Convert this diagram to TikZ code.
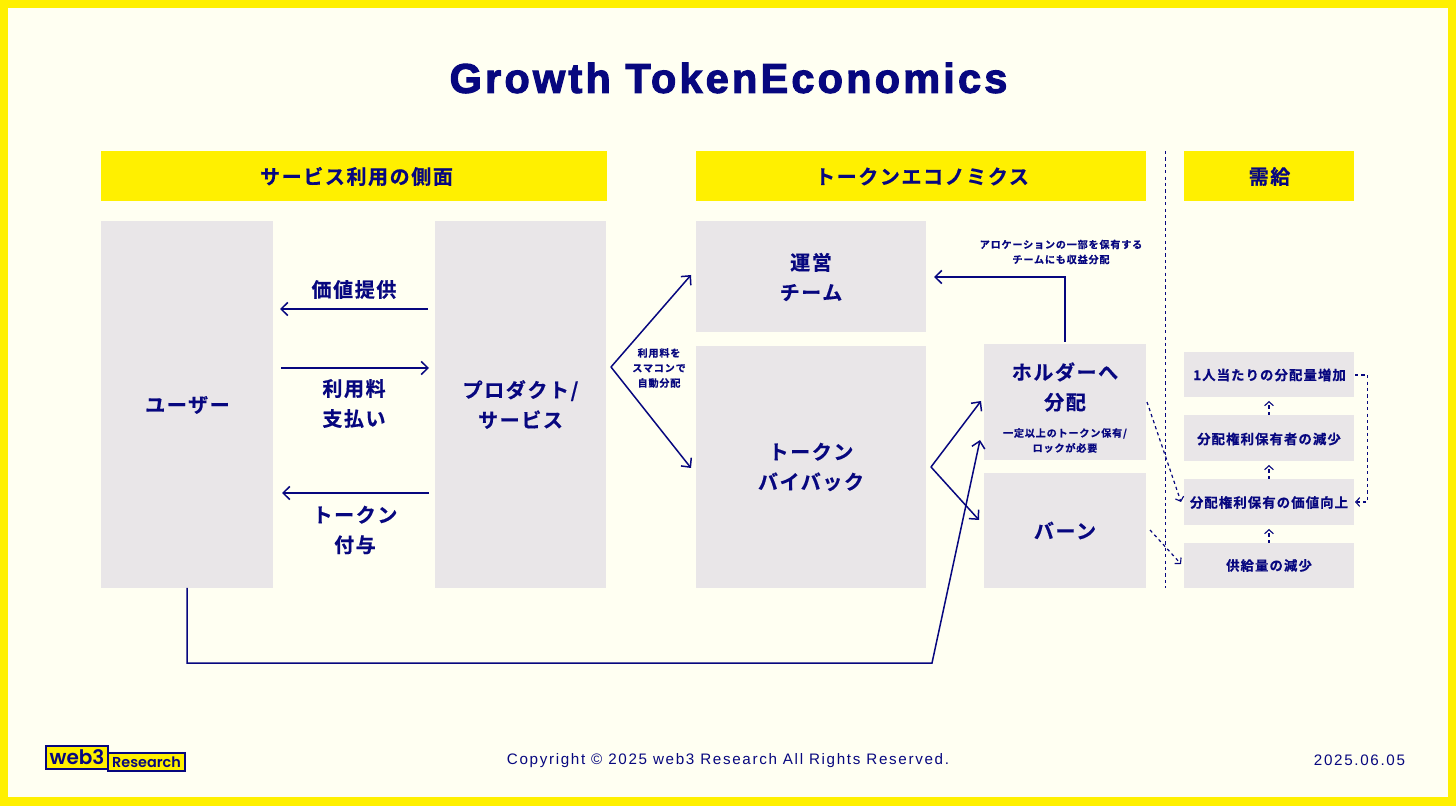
\documentclass[tikz,border=0pt]{standalone}
\usepackage{fontspec}
\usetikzlibrary{arrows.meta,calc}
\setmainfont{Noto Sans CJK JP}[LetterSpace=8,BoldFont={Noto Sans CJK JP Bold},BoldFeatures={FakeBold=0.5}]
\newfontfamily\titlefont{Liberation Sans Bold}[LetterSpace=7.5,FakeBold=2.5]
\newfontfamily\footfont{Liberation Sans}[LetterSpace=11]
\newfontfamily\logofont{Poppins SemiBold}
\definecolor{navy}{HTML}{07077F}
\definecolor{ylw}{HTML}{FFF000}
\definecolor{pane}{HTML}{E9E6E8}
\definecolor{paper}{HTML}{FFFFF2}
\tikzset{
  px/.style={x=0.5pt,y=-0.5pt},
  txt/.style={text=navy,font=\bfseries,align=center,inner sep=0pt,outer sep=0pt},
  big/.style={txt,font=\bfseries\fontsize{10}{15}\selectfont},
  mid/.style={txt,font=\bfseries\fontsize{6.7}{9}\selectfont},
  sml/.style={txt,font=\bfseries\fontsize{5.05}{7.5}\selectfont},
  pbox/.style={fill=pane,draw=none,inner sep=0pt,outer sep=0pt},
  head/.style={fill=ylw,draw=none,inner sep=0pt,outer sep=0pt},
  arr/.style={draw=navy,line width=0.75pt,-{Straight Barb[length=3.4pt,width=6.6pt,line width=0.75pt]}},
  dot/.style={draw=navy,line width=0.6pt,dash pattern=on 1.6pt off 1.6pt},
  darr/.style={dot,-{Straight Barb[length=2pt,width=4.4pt,line width=0.55pt]}},
  gap/.style={shorten <=#1,shorten >=#1},
  foot/.style={text=navy,font=\footfont\fontsize{7.6}{9}\selectfont,inner sep=0pt,outer sep=0pt},
  logo/.style={fill=ylw,draw=navy,line width=0.6pt,text=navy,inner sep=0pt,outer sep=0pt},
}
\begin{document}
\begin{tikzpicture}[px]
\useasboundingbox (0,0) rectangle (1456,806);
\fill[ylw] (0,0) rectangle (1456,806);
\fill[paper] (8,8) rectangle (1448,797);

\node[txt,font=\titlefont\fontsize{20.8}{24}\selectfont] (title) at (728.5,78) {Growth TokenEconomics};

% headers
\node[head,minimum width=253pt,minimum height=25pt] (h1) at (354,176) {};
\node[big] (h1t) at (356.5,176.5) {サービス利用の側面};
\node[head,minimum width=225pt,minimum height=25pt] (h2) at (921,176) {};
\node[big] (h2t) at (922,176.5) {トークンエコノミクス};
\node[head,minimum width=85pt,minimum height=25pt] (h3) at (1269,176) {};
\node[big] (h3t) at (1269.5,176.5) {需給};

% boxes
\node[pbox,minimum width=86pt,minimum height=183.5pt] (user) at (187,404.5) {};
\node[big] (usert) at (187.5,405) {ユーザー};
\node[pbox,minimum width=85.5pt,minimum height=183.5pt] (prod) at (520.5,404.5) {};
\node[big] (prodt) at (520.5,404.5) {プロダクト/\\サービス};
\node[pbox,minimum width=115pt,minimum height=55.5pt] (team) at (811,276.5) {};
\node[big] (teamt) at (811,277) {運営\\チーム};
\node[pbox,minimum width=115pt,minimum height=121pt] (buy) at (811,467) {};
\node[big] (buyt) at (811,467) {トークン\\バイバック};
\node[pbox,minimum width=81pt,minimum height=58pt] (hold) at (1065,402) {};
\node[big] (holdt) at (1065,387) {ホルダーへ\\分配};
\node[sml] (holds) at (1065,440.5) {一定以上のトークン保有/\\ロックが必要};
\node[pbox,minimum width=81pt,minimum height=57.5pt] (burn) at (1065,530.5) {};
\node[big] (burnt) at (1065,530.5) {バーン};

\node[pbox,minimum width=85pt,minimum height=22.5pt] (r1) at (1269,374.5) {};
\node[mid] (r1t) at (1269.5,375) {1人当たりの分配量増加};
\node[pbox,minimum width=85pt,minimum height=23pt] (r2) at (1269,438) {};
\node[mid] (r2t) at (1269,439) {分配権利保有者の減少};
\node[pbox,minimum width=85pt,minimum height=23pt] (r3) at (1269,502) {};
\node[mid] (r3t) at (1269,502.5) {分配権利保有の価値向上};
\node[pbox,minimum width=85pt,minimum height=22.5pt] (r4) at (1269,565.5) {};
\node[mid] (r4t) at (1269,565.5) {供給量の減少};

% labels
\node[big] (l1) at (354,289.5) {価値提供};
\node[big] (l2) at (354,403.5) {利用料\\支払い};
\node[big] (l3) at (355,530) {トークン\\付与};
\node[sml] (l4) at (659,368) {利用料を\\スマコンで\\自動分配};
\node[sml] (l5) at (1061,252) {アロケーションの一部を保有する\\チームにも収益分配};

% helper coordinates
\coordinate (ya) at (0,309);
\coordinate (yb) at (0,368);
\coordinate (yc) at (0,493);
\coordinate (split1) at (611,367);
\coordinate (split2) at (931,467);
\coordinate (low1) at (187,663);
\coordinate (low2) at (932,663);
\coordinate (hold1) at (981,401);
\coordinate (hold2) at (980,440);
\coordinate (burn1) at (979,520);
\coordinate (team1) at (934,277);
\coordinate (knee) at (1065,277);
\coordinate (top1) at (1065,342);
\coordinate (team2) at (691,275);
\coordinate (buy2) at (691,468);
\coordinate (vtop) at (1165.5,151);
\coordinate (vbot) at (1165.5,588);
\coordinate (d1s) at (1147,402);
\coordinate (d1e) at (1181,502);
\coordinate (d2s) at (1150,530);
\coordinate (d2e) at (1181,564);
\coordinate (loopa) at (1367.5,375);
\coordinate (loopb) at (1367.5,502);

% connectors
\draw[arr,gap=3.5pt] (prod.west |- ya) -- (user.east |- ya);
\draw[arr,shorten <=4pt,shorten >=3pt] (user.east |- yb) -- (prod.west |- yb);
\draw[arr,shorten <=3pt,shorten >=4.5pt] (prod.west |- yc) -- (user.east |- yc);
\draw[arr] (split1) -- (team2);
\draw[arr] (split1) -- (buy2);
\draw[arr] (split2) -- (hold1);
\draw[arr] (split2) -- (burn1);
\draw[arr] (user.south) -- (low1) -- (low2) -- (hold2);
\draw[arr] (top1) -- (knee) -- (team1);
\draw[dot] (vtop) -- (vbot);
\draw[darr] (d1s) -- (d1e);
\draw[darr] (d2s) -- (d2e);
\draw[darr,shorten >=2pt] (r2.north) -- (r1.south);
\draw[darr,shorten >=2pt] (r3.north) -- (r2.south);
\draw[darr,shorten >=2pt] (r4.north) -- (r3.south);
\draw[darr,shorten <=0.5pt,shorten >=0.5pt] (r1.east |- loopa) -- (loopa) -- (loopb) -- (r3.east |- loopb);

% footer
\node[logo,minimum width=31pt,minimum height=11.5pt,font=\logofont\fontsize{10}{11}\selectfont] (lg1) at (77,757.5) {web3};
\node[logo,minimum width=38.5pt,minimum height=9pt,font=\logofont\fontsize{7.2}{9}\selectfont] (lg2) at (146.5,762) {Research};
\node[foot] (cp) at (728,760.5) {Copyright © 2025 web3 Research All Rights Reserved.};
\node[foot] (dt) at (1359.5,760.5) {2025.06.05};
\end{tikzpicture}
\end{document}
